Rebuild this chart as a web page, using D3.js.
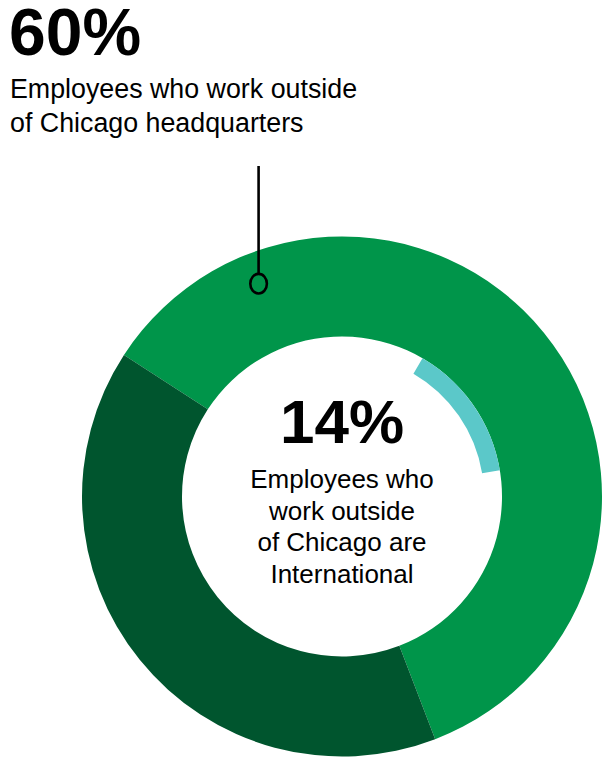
<!DOCTYPE html>
<html>
<head>
<meta charset="utf-8">
<script src="https://cdn.jsdelivr.net/npm/d3@7"></script>
<style>
  html, body { margin: 0; padding: 0; background: #ffffff; }
  svg { display: block; }
  text { font-family: "Liberation Sans", Arial, Helvetica, sans-serif; fill: #000; }
</style>
</head>
<body>
<svg id="chart" width="602" height="761"></svg>
<script>
// Employee location split
const categories = ["Outside Chicago headquarters", "Chicago headquarters"];
const shares = [60, 40];
const ringColors = ["#00954a", "#00552e"];

// Share of outside-Chicago employees who are international
const intlLabel = "International";
const intlShare = 14;
const intlColor = "#5bc8c9";

const headline = "60%";
const headlineLines = ["Employees who work outside", "of Chicago headquarters"];
const centerValue = "14%";
const centerLines = ["Employees who", "work outside", "of Chicago are", "International"];

const svg = d3.select("#chart");
const W = 602, H = 761;
const cx = 342, cy = 496.5;
const outerR = 260, innerR = 160, tealInnerR = 142;
const deg = Math.PI / 180;

const g = svg.append("g").attr("transform", `translate(${cx},${cy})`);

// Outer ring
const pie = d3.pie().sort(null).value(d => d)
  .startAngle(-57 * deg).endAngle(303 * deg);
const arc = d3.arc().innerRadius(innerR).outerRadius(outerR);

g.selectAll("path.ring")
  .data(pie(shares))
  .join("path")
  .attr("class", "ring")
  .attr("d", arc)
  .attr("fill", (d, i) => ringColors[i]);

// Inner international arc
const pctScale = d3.scaleLinear().domain([0, 100]).range([0, 2 * Math.PI]);
const tealStart = 30.2 * deg;
const tealArc = d3.arc().innerRadius(tealInnerR).outerRadius(innerR);
g.append("path")
  .datum({ startAngle: tealStart, endAngle: tealStart + pctScale(intlShare) })
  .attr("d", tealArc)
  .attr("fill", intlColor);

// Callout pointer into the 60% segment
const pointerAngle = -21.4 * deg, pointerR = 228.6;
const px = pointerR * Math.sin(pointerAngle), py = -pointerR * Math.cos(pointerAngle);
const rx = 8.3, ry = 9.8;
g.append("line")
  .attr("x1", px).attr("x2", px)
  .attr("y1", 166 - cy).attr("y2", py - ry)
  .attr("stroke", "#000").attr("stroke-width", 2.6);
g.append("ellipse")
  .attr("cx", px).attr("cy", py).attr("rx", rx).attr("ry", ry)
  .attr("fill", "none").attr("stroke", "#000").attr("stroke-width", 2.6);

// Headline text
svg.append("text")
  .attr("x", 9).attr("y", 55)
  .attr("font-size", 66).attr("font-weight", "bold")
  .text(headline);
svg.append("g").selectAll("text")
  .data(headlineLines)
  .join("text")
  .attr("x", 10).attr("y", (d, i) => 98 + i * 34)
  .attr("font-size", 26.8)
  .text(d => d);

// Center text
svg.append("text")
  .attr("x", cx).attr("y", 443)
  .attr("text-anchor", "middle")
  .attr("font-size", 62).attr("font-weight", "bold")
  .text(centerValue);
svg.append("g").selectAll("text")
  .data(centerLines)
  .join("text")
  .attr("x", cx).attr("y", (d, i) => 488 + i * 31.7)
  .attr("text-anchor", "middle")
  .attr("font-size", 26)
  .text(d => d);
</script>
</body>
</html>
